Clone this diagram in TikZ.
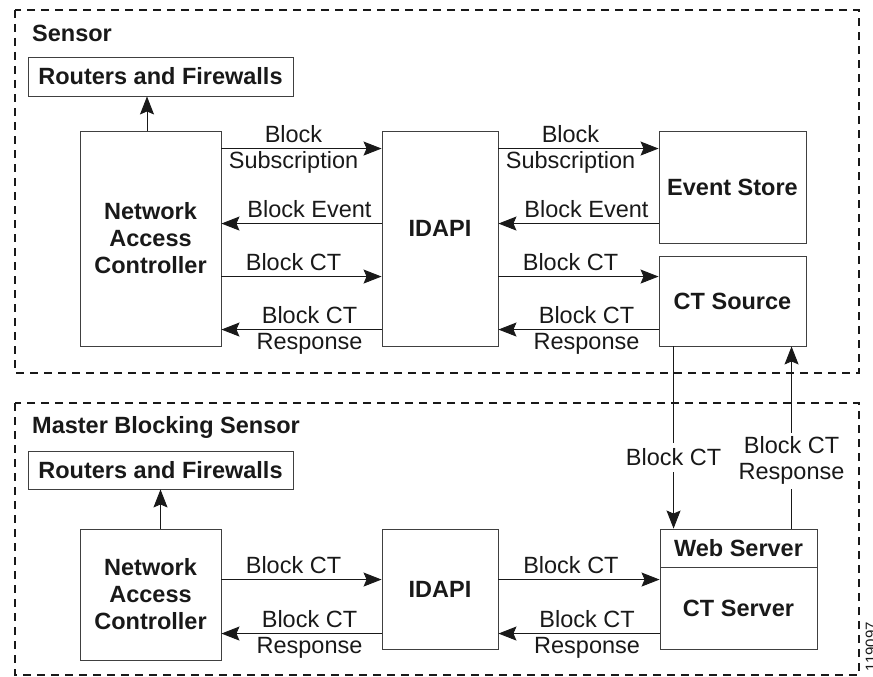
\documentclass[tikz,border=0pt]{standalone}
\usepackage{fontspec}
\setmainfont{Liberation Sans}
\usetikzlibrary{arrows.meta}

\begin{document}
\begin{tikzpicture}[x=1pt, y=-1pt,
  box/.style={draw=black!75, line width=0.9pt, inner sep=0pt, align=center,
    text=black!90, font=\bfseries\fontsize{23.5}{27}\selectfont},
  lbl/.style={text=black!90, inner sep=0pt, font=\fontsize{23.5}{26}\selectfont},
  lblup/.style={lbl, anchor=base, yshift=6pt},
  lbldn/.style={lbl, anchor=base, yshift=-20pt},
  ar/.style={draw=black!90, line width=0.9pt, -{Stealth[length=18pt,width=14pt,inset=3pt]}},
  zone/.style={draw=black!90, line width=2.2pt, dash pattern=on 8pt off 6pt}]
\useasboundingbox (0,0) rectangle (873,677);
\draw [zone] (15,10) rectangle (859,373);
\draw [zone] (15,403) rectangle (859,675);
\node [lbl, font=\bfseries\fontsize{23.5}{26}\selectfont, anchor=base west] (sensor) at (32,42) {Sensor};
\node [box, minimum width=265pt, minimum height=39pt] (rf1) at (160.5,76.5) {Routers and Firewalls};
\node [box, minimum width=141pt, minimum height=215pt] (nac1) at (150.5,238.5) {Network\\Access\\Controller};
\node [box, minimum width=116pt, minimum height=215pt, text depth=20pt] (idapi1) at (440,238.5) {IDAPI};
\node [box, minimum width=147pt, minimum height=112pt] (store) at (732.5,187) {Event Store};
\node [box, minimum width=147pt, minimum height=90pt] (ctsrc) at (732.5,301) {CT Source};
\draw [ar] ([xshift=-3.5pt]nac1.north) -- ([xshift=-3.5pt]nac1.north |- rf1.south);
\draw [ar] ([yshift=-18pt]nac1.north east) -- ([yshift=-18pt]idapi1.north west)
  node [lblup, pos=0.45] {Block} node [lbldn, pos=0.45] {Subscription};
\draw [ar] ([yshift=-93pt]idapi1.north west) -- ([yshift=-93pt]nac1.north east)
  node [lblup, pos=0.45] {Block Event};
\draw [ar] ([yshift=-146pt]nac1.north east) -- ([yshift=-146pt]idapi1.north west)
  node [lblup, pos=0.45] {Block CT};
\draw [ar] ([yshift=-199pt]idapi1.north west) -- ([yshift=-199pt]nac1.north east)
  node [lblup, pos=0.45] {Block CT} node [lbldn, pos=0.45] {Response};
\draw [ar] ([yshift=-18pt]idapi1.north east) -- ([yshift=-18pt]store.north west)
  node [lblup, pos=0.45] {Block} node [lbldn, pos=0.45] {Subscription};
\draw [ar] ([yshift=-93pt]store.north west) -- ([yshift=-93pt]idapi1.north east)
  node [lblup, pos=0.45] {Block Event};
\draw [ar] ([yshift=-146pt]idapi1.north east) -- ([yshift=-21pt]ctsrc.north west)
  node [lblup, pos=0.45] {Block CT};
\draw [ar] ([yshift=-74pt]ctsrc.north west) -- ([yshift=-199pt]idapi1.north east)
  node [lblup, pos=0.45] {Block CT} node [lbldn, pos=0.45] {Response};
\node [lbl, font=\bfseries\fontsize{23.5}{26}\selectfont, anchor=base west] (master) at (32,433) {Master Blocking Sensor};
\node [box, minimum width=265pt, minimum height=38pt] (rf2) at (160.5,470) {Routers and Firewalls};
\node [box, minimum width=141pt, minimum height=131pt] (nac2) at (150.5,594.5) {Network\\Access\\Controller};
\node [box, minimum width=116pt, minimum height=120pt] (idapi2) at (440,589) {IDAPI};
\node [box, minimum width=157pt, minimum height=38pt] (web) at (738.5,548) {Web Server};
\node [box, minimum width=157pt, minimum height=82pt] (ctsrv) at (738.5,608) {CT Server};
\draw [ar] (rf2.south |- nac2.north) -- (rf2.south);
\draw [ar] ([yshift=-51pt]nac2.north east) -- ([yshift=-51pt]idapi2.north west)
  node [lblup, pos=0.45] {Block CT};
\draw [ar] ([yshift=-105pt]idapi2.north west) -- ([yshift=-105pt]nac2.north east)
  node [lblup, pos=0.45] {Block CT} node [lbldn, pos=0.45] {Response};
\draw [ar] ([yshift=-51pt]idapi2.north east) -- ([yshift=-13pt]ctsrv.north west)
  node [lblup, pos=0.45] {Block CT};
\draw [ar] ([yshift=-67pt]ctsrv.north west) -- ([yshift=-105pt]idapi2.north east)
  node [lblup, pos=0.45] {Block CT} node [lbldn, pos=0.45] {Response};
\draw [ar] ([xshift=15pt]ctsrc.south west) -- ([xshift=14pt]web.north west)
  node [lbl, fill=white, inner xsep=1pt, inner ysep=6pt, pos=0.61] {Block CT};
\draw [ar] ([xshift=132pt]web.north west) -- ([xshift=133pt]ctsrc.south west)
  node [lbl, fill=white, align=center, inner xsep=1pt, inner ysep=4pt, pos=0.372] {Block CT\\Response};
\node [lbl, font=\fontsize{15}{15}\selectfont, rotate=90, anchor=east] (fignum) at (871,622) {119097};
\end{tikzpicture}
\end{document}
